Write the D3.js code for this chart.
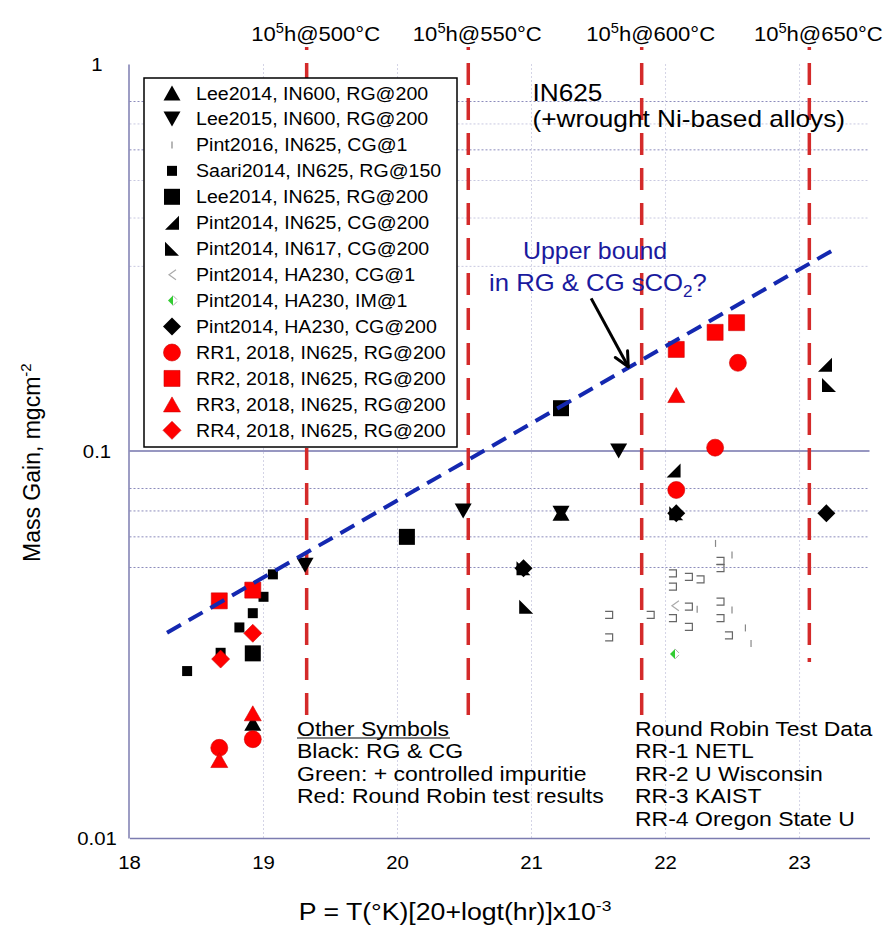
<!DOCTYPE html>
<html>
<head>
<meta charset="utf-8">
<script src="https://cdn.jsdelivr.net/npm/d3@7/dist/d3.min.js"></script>
<style>
  body { margin: 0; background: #fff; }
  svg { display: block; font-family: "Liberation Sans", Arial, Helvetica, sans-serif; }
</style>
</head>
<body>
<svg width="884" height="944"></svg>
<script>
// points are [P, mass gain in mg/cm2]
const lee2014IN600 = [[18.92, 0.0198], [21.22, 0.069]];
const lee2015IN600 = [[19.31, 0.0507], [20.49, 0.070], [21.65, 0.100], [21.22, 0.069]];
const pint2016 = [[22.41, 0.0520], [22.41, 0.0498], [22.055, 0.0483], [22.055, 0.0446],
  [22.174, 0.0473], [22.261, 0.0466], [22.174, 0.0396], [22.41, 0.0408], [22.41, 0.037],
  [22.055, 0.037], [22.174, 0.0351], [21.579, 0.0377], [21.579, 0.033], [21.889, 0.0377],
  [22.473, 0.0334]];
const pint2016Ticks = [[22.373, 0.0577], [22.496, 0.0539], [22.236, 0.039], [22.496, 0.0388],
  [22.596, 0.0349], [22.638, 0.0318]];
const saari2014 = [[19.07, 0.048], [19.0, 0.042], [18.92, 0.0381], [18.82, 0.035],
  [18.68, 0.0301], [18.43, 0.027]];
const lee2014IN625 = [[18.92, 0.030], [20.07, 0.060], [21.22, 0.129]];
const pint2014IN625 = [[22.06, 0.089], [23.19, 0.167]];
const pint2014IN617 = [[20.96, 0.0396], [23.22, 0.148], [20.94, 0.0498], [22.08, 0.069]];
const pint2014HA230cg1 = [[22.07, 0.0398]];
const pint2014HA230im1 = [[22.063, 0.0299]];
const pint2014HA230cg200 = [[20.94, 0.0498], [22.08, 0.069], [23.20, 0.069]];
const rr1 = [[18.92, 0.018], [18.67, 0.0171], [22.08, 0.0793], [22.37, 0.102], [22.54, 0.169]];
const rr2 = [[18.67, 0.041], [18.92, 0.0437], [22.08, 0.183], [22.37, 0.2026], [22.53, 0.2146]];
const rr3 = [[18.92, 0.021], [18.67, 0.0159], [22.08, 0.1395]];
const rr4 = [[18.92, 0.0338], [18.68, 0.029]];

const upperBound = [[18.28, 0.0339], [23.24, 0.329]];
const arrowFrom = [21.445, 0.248];
const arrowTo = [21.722, 0.165];

const lmpLines = [19.322, 20.528, 21.822, 23.073];
const lmpTemps = ["500", "550", "600", "650"];
const lmpLineEnd = [0.0204, 0.0204, 0.0204, 0.0285];

const xTicks = [18, 19, 20, 21, 22, 23];
const yTicks = [0.01, 0.1, 1];
const yTickLabels = ["0.01", "0.1", "1"];
const gridDark = [0.05, 0.06, 0.07, 0.08, 0.6, 0.8];
const gridLight = [0.3, 0.4, 0.5, 0.7];

const legendLabels = [
  "Lee2014, IN600, RG@200", "Lee2015, IN600, RG@200", "Pint2016, IN625, CG@1",
  "Saari2014, IN625, RG@150", "Lee2014, IN625, RG@200", "Pint2014, IN625, CG@200",
  "Pint2014, IN617, CG@200", "Pint2014, HA230, CG@1", "Pint2014, HA230, IM@1",
  "Pint2014, HA230, CG@200", "RR1, 2018, IN625, RG@200", "RR2, 2018, IN625, RG@200",
  "RR3, 2018, IN625, RG@200", "RR4, 2018, IN625, RG@200"];
const legendShapes = ["triUp", "triDown", "tick", "smallSq", "bigSq", "rtR", "rtL",
  "chev", "green", "diamond", "circle", "bigSq", "triUp", "diamond"];
const legendColors = ["#000", "#000", "#000", "#000", "#000", "#000", "#000",
  "#000", "#000", "#000", "red", "red", "red", "red"];

const notesLeft = ["Black: RG & CG", "Green: + controlled impuritie", "Red: Round Robin test results"];
const notesRight = ["Round Robin Test Data", "RR-1 NETL", "RR-2 U Wisconsin", "RR-3 KAIST", "RR-4 Oregon State U"];

const svg = d3.select('svg');
const x = d3.scaleLinear().domain([18, 23.522]).range([129.5, 869.5]);
const y = d3.scaleLog().domain([0.01, 1]).range([838, 64]);

function stext(parent, px, py, str, size, sx, anchor) {
  return parent.append('text')
    .attr('transform', `translate(${px},${py}) scale(${sx},1)`)
    .attr('font-size', size + 'px')
    .attr('text-anchor', anchor || 'start')
    .text(str);
}

// grid
const grid = svg.append('g');
grid.selectAll('.gl').data(gridLight).enter().append('line')
  .attr('x1', x(18)).attr('x2', x.range()[1])
  .attr('y1', d => y(d)).attr('y2', d => y(d))
  .attr('stroke', '#c8c8e0').attr('stroke-width', 1).attr('stroke-dasharray', '2,2');
grid.selectAll('.gd').data(gridDark).enter().append('line')
  .attr('x1', x(18)).attr('x2', x.range()[1])
  .attr('y1', d => y(d)).attr('y2', d => y(d))
  .attr('stroke', '#8c8cbc').attr('stroke-width', 1).attr('stroke-dasharray', '2,2');
grid.selectAll('.gv').data(xTicks.slice(1)).enter().append('line')
  .attr('x1', d => x(d)).attr('x2', d => x(d))
  .attr('y1', y(1)).attr('y2', y(0.01))
  .attr('stroke', '#d4d4e6').attr('stroke-width', 1).attr('stroke-dasharray', '2,2');
grid.append('line')
  .attr('x1', x(18)).attr('x2', x.range()[1])
  .attr('y1', y(0.1)).attr('y2', y(0.1))
  .attr('stroke', '#7474ac').attr('stroke-width', 1.5);

// axes
const axisColor = '#7c7cb0';
const xAxis = svg.append('g').attr('transform', `translate(0,${y(0.01)})`)
  .call(d3.axisBottom(x).tickValues(xTicks).tickSize(0).tickFormat(''));
xAxis.select('.domain').attr('stroke', axisColor).attr('stroke-width', 1.5);
const yAxis = svg.append('g').attr('transform', `translate(${x(18) - 1},0)`)
  .call(d3.axisLeft(y).tickValues(yTicks).tickSize(0).tickFormat(''));
yAxis.select('.domain').attr('stroke', axisColor).attr('stroke-width', 1.5);

xTicks.forEach(t => stext(svg, x(t), 869, String(t), 18.5, 1.1, 'middle'));
yTicks.forEach((t, i) => stext(svg, 97, y(t) + 7, yTickLabels[i], 18.5, 1.1, 'middle'));

// 10^5 h lines
lmpLines.forEach((p, i) => {
  svg.append('line')
    .attr('x1', x(p)).attr('x2', x(p))
    .attr('y1', y(1) - 17).attr('y2', y(lmpLineEnd[i]))
    .attr('stroke', '#d42a2a').attr('stroke-width', 3.5)
    .attr('stroke-dasharray', '22,13').attr('stroke-dashoffset', 19);
  const t = stext(svg, x(p) + 9, 41, '', 21, 1.05, 'middle');
  t.append('tspan').text('10');
  t.append('tspan').attr('font-size', '14px').attr('dy', -8).text('5');
  t.append('tspan').attr('dy', 8).text('h@' + lmpTemps[i] + '°C');
});

// marker shapes
function shapePath(kind) {
  switch (kind) {
    case 'triUp': return 'M0,-7.5L8.5,7.5L-8.5,7.5Z';
    case 'triDown': return 'M-8.5,-7.5L8.5,-7.5L0,7.5Z';
    case 'bigSq': return 'M-8,-8H8V8H-8Z';
    case 'smallSq': return 'M-5,-5H5V5H-5Z';
    case 'rtR': return 'M7,-7L7,7L-7,7Z';
    case 'rtL': return 'M-7,-7L7,7L-7,7Z';
    case 'diamond': return 'M0,-9L9,0L0,9L-9,0Z';
  }
}
function drawMarker(g, kind, color, px, py) {
  const m = g.append('g').attr('transform', `translate(${px},${py})`);
  if (kind === 'circle') {
    m.append('circle').attr('r', 8.5).attr('fill', color).attr('stroke', '#c00').attr('stroke-width', 0.6);
  } else if (kind === 'tick') {
    m.append('path').attr('d', 'M0,-3.5V3.5').attr('stroke', '#888').attr('stroke-width', 1.2);
  } else if (kind === 'bracket') {
    m.append('path').attr('d', 'M-4,-3.5H3.5V3.5H-4').attr('fill', 'none')
      .attr('stroke', '#666').attr('stroke-width', 1.2);
  } else if (kind === 'chev') {
    m.append('path').attr('d', 'M4,-5L-3,0L4,5').attr('fill', 'none')
      .attr('stroke', '#aaa').attr('stroke-width', 1.2);
  } else if (kind === 'green') {
    m.append('path').attr('d', 'M-4,0L1,-5L1,5Z').attr('fill', '#33cc33');
    m.append('path').attr('d', 'M1,-5L5,-1M1,5L5,1').attr('stroke', '#aaa').attr('stroke-width', 1);
  } else {
    m.append('path').attr('d', shapePath(kind)).attr('fill', color)
      .attr('stroke', color === 'red' ? '#c00' : 'none').attr('stroke-width', 0.6);
  }
}
const marks = svg.append('g');
function plot(data, kind, color) {
  data.forEach(d => drawMarker(marks, kind, color, x(d[0]), y(d[1])));
}
plot(pint2016, 'bracket', '#666');
plot(pint2016Ticks, 'tick', '#888');
plot(pint2014HA230cg1, 'chev', '#aaa');
plot(pint2014HA230im1, 'green', '#3c3');
plot(saari2014, 'smallSq', '#000');
plot(lee2014IN625, 'bigSq', '#000');
plot(pint2014HA230cg200, 'diamond', '#000');
plot(pint2014IN617, 'rtL', '#000');
plot(pint2014IN625, 'rtR', '#000');
plot(lee2014IN600, 'triUp', '#000');
plot(lee2015IN600, 'triDown', '#000');
plot(rr1, 'circle', 'red');
plot(rr2, 'bigSq', 'red');
plot(rr3, 'triUp', 'red');
plot(rr4, 'diamond', 'red');

// upper bound line
svg.append('path')
  .attr('d', d3.line().x(d => x(d[0])).y(d => y(d[1]))(upperBound))
  .attr('fill', 'none').attr('stroke', '#1428b0').attr('stroke-width', 4)
  .attr('stroke-dasharray', '16,9');

// arrow
const ax0 = x(arrowFrom[0]), ay0 = y(arrowFrom[1]);
const ax1 = x(arrowTo[0]), ay1 = y(arrowTo[1]);
const ang = Math.atan2(ay1 - ay0, ax1 - ax0);
svg.append('line').attr('x1', ax0).attr('y1', ay0).attr('x2', ax1).attr('y2', ay1)
  .attr('stroke', '#000').attr('stroke-width', 3);
[0.45, -0.45].forEach(da => {
  svg.append('line').attr('x1', ax1).attr('y1', ay1)
    .attr('x2', ax1 - 16 * Math.cos(ang + da)).attr('y2', ay1 - 16 * Math.sin(ang + da))
    .attr('stroke', '#000').attr('stroke-width', 3).attr('stroke-linecap', 'round');
});

// legend
const legend = svg.append('g');
legend.append('rect').attr('x', 144).attr('y', 78).attr('width', 313).attr('height', 369)
  .attr('fill', '#fff').attr('stroke', '#000').attr('stroke-width', 1.5);
legendLabels.forEach((lab, i) => {
  const cy = 93 + i * 25.95;
  drawMarker(legend, legendShapes[i], legendColors[i], 172, cy);
  stext(legend, 196, cy + 6.5, lab, 17.5, 1.12, 'start');
});

// annotations
const blue = '#1a1a9e';
stext(svg, 595, 259, 'Upper bound', 24, 1.04, 'middle').attr('fill', blue);
const ub = stext(svg, 598, 290.5, '', 24, 1.07, 'middle').attr('fill', blue);
ub.append('tspan').text('in RG & CG sCO');
ub.append('tspan').attr('font-size', '16px').attr('dy', 6).text('2');
ub.append('tspan').attr('dy', -6).text('?');

stext(svg, 532.5, 101, 'IN625', 23, 1.14, 'start');
stext(svg, 532.5, 127, '(+wrought Ni-based alloys)', 23, 1.14, 'start');

stext(svg, 297, 735.5, 'Other Symbols', 19.5, 1.18, 'start');
svg.append('line').attr('x1', 297).attr('x2', 450).attr('y1', 738).attr('y2', 738)
  .attr('stroke', '#000').attr('stroke-width', 1.2);
notesLeft.forEach((s, i) => stext(svg, 297, 758 + i * 22.6, s, 19.5, 1.18, 'start'));
notesRight.forEach((s, i) => stext(svg, 635, 735.5 + i * 22.6, s, 19.5, 1.18, 'start'));

// axis titles
const yl = svg.append('text')
  .attr('transform', 'translate(40,562) rotate(-90)')
  .attr('font-size', '23px').attr('text-anchor', 'start');
yl.append('tspan').text('Mass Gain, mgcm');
yl.append('tspan').attr('font-size', '15px').attr('dy', -9).text('-2');

const xl = stext(svg, 455, 920, '', 23, 1.16, 'middle');
xl.append('tspan').text('P = T(°K)[20+logt(hr)]x10');
xl.append('tspan').attr('font-size', '15px').attr('dy', -9).text('-3');
</script>
</body>
</html>
